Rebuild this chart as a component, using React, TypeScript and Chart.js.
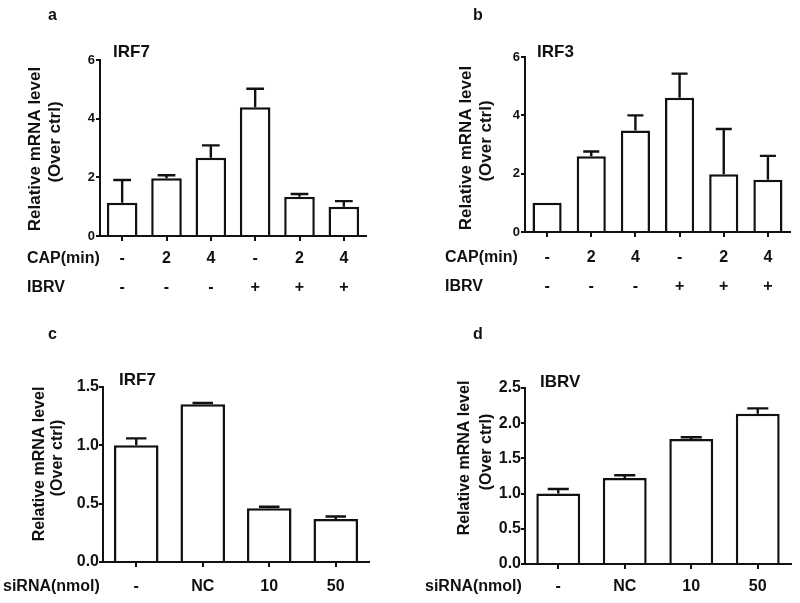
import React, { useEffect, useRef } from "react";
import { Chart, registerables } from "chart.js";

Chart.register(...registerables);

// ---------------- data ----------------
const capLabels = ["-", "2", "4", "-", "2", "4"];
const ibrvLabels = ["-", "-", "-", "+", "+", "+"];
const irf7AMeans = [1.13, 1.97, 2.67, 4.39, 1.34, 1.0];
const irf7AErr = [0.78, 0.1, 0.42, 0.63, 0.09, 0.19];
const irf3Means = [1.0, 2.6, 3.48, 4.6, 1.98, 1.79];
const irf3Err = [0, 0.16, 0.52, 0.83, 1.55, 0.82];
const sirnaLabels = ["-", "NC", "10", "50"];
const irf7CMeans = [1.0, 1.353, 0.461, 0.368];
const irf7CErr = [0.06, 0.01, 0.012, 0.022];
const ibrvMeans = [1.0, 1.22, 1.776, 2.135];
const ibrvErr = [0.065, 0.04, 0.024, 0.075];
const yTitleLines = ["Relative mRNA level", "(Over ctrl)"];
const capRowTitle = "CAP(min)";
const ibrvRowTitle = "IBRV";
const sirnaRowTitle = "siRNA(nmol)";

const FONT = "Arial, 'Liberation Sans', Helvetica, sans-serif";
const INK = "#111111";

type TextItem = { text: string; x: number; y: number };

type Panel = {
  key: string;
  left: number;
  top: number;
  width: number;
  height: number;
  area: { l: number; r: number; t: number; b: number };
  labels: (string | string[])[];
  means: number[];
  errs: number[];
  yMax: number;
  yStep: number;
  yDecimals: number;
  yFontSize: number;
  yTickPad: number;
  xFontSize: number;
  xLineHeight: number;
  xPad: number;
  barPct: number;
  capFrac: number;
  letter: TextItem;
  gene: TextItem;
  titleX: number[];
  titleY: number[];
  titleSize: number;
  rows: TextItem[];
};

const twoRow = capLabels.map((c, i) => [c, ibrvLabels[i]]);

const panels: Panel[] = [
  {
    key: "a",
    left: 0, top: 0, width: 400, height: 300,
    area: { l: 100, r: 366, t: 60, b: 236 },
    labels: twoRow, means: irf7AMeans, errs: irf7AErr,
    yMax: 6, yStep: 2, yDecimals: 0, yFontSize: 13, yTickPad: 1,
    xFontSize: 16, xLineHeight: 29, xPad: 3.5,
    barPct: 0.69, capFrac: 0.58,
    letter: { text: "a", x: 48, y: 16 },
    gene: { text: "IRF7", x: 113, y: 52 },
    titleX: [35, 55], titleY: [149, 142], titleSize: 17,
    rows: [
      { text: capRowTitle, x: 27, y: 259 },
      { text: ibrvRowTitle, x: 27, y: 288 },
    ],
  },
  {
    key: "b",
    left: 400, top: 0, width: 400, height: 300,
    area: { l: 125, r: 390, t: 57, b: 232 },
    labels: twoRow, means: irf3Means, errs: irf3Err,
    yMax: 6, yStep: 2, yDecimals: 0, yFontSize: 13, yTickPad: 1,
    xFontSize: 16, xLineHeight: 28.5, xPad: 6.5,
    barPct: 0.66, capFrac: 0.55,
    letter: { text: "b", x: 473, y: 16 },
    gene: { text: "IRF3", x: 537, y: 52 },
    titleX: [466, 486], titleY: [148, 141], titleSize: 17,
    rows: [
      { text: capRowTitle, x: 445, y: 258 },
      { text: ibrvRowTitle, x: 445, y: 287 },
    ],
  },
  {
    key: "c",
    left: 0, top: 300, width: 400, height: 303,
    area: { l: 103, r: 369, t: 87, b: 262 },
    labels: sirnaLabels, means: irf7CMeans, errs: irf7CErr,
    yMax: 1.5, yStep: 0.5, yDecimals: 1, yFontSize: 16, yTickPad: 0,
    xFontSize: 16, xLineHeight: 19, xPad: 10.5,
    barPct: 0.67, capFrac: 0.46,
    letter: { text: "c", x: 48, y: 335 },
    gene: { text: "IRF7", x: 119, y: 380 },
    titleX: [40, 58], titleY: [464, 458], titleSize: 16,
    rows: [{ text: sirnaRowTitle, x: 3, y: 587 }],
  },
  {
    key: "d",
    left: 400, top: 300, width: 400, height: 303,
    area: { l: 125, r: 391, t: 88, b: 264 },
    labels: sirnaLabels, means: ibrvMeans, errs: ibrvErr,
    yMax: 2.5, yStep: 0.5, yDecimals: 1, yFontSize: 16, yTickPad: 0,
    xFontSize: 16, xLineHeight: 19, xPad: 8.5,
    barPct: 0.66, capFrac: 0.48,
    letter: { text: "d", x: 473, y: 335 },
    gene: { text: "IBRV", x: 540, y: 382 },
    titleX: [465, 487], titleY: [458, 452], titleSize: 16,
    rows: [{ text: sirnaRowTitle, x: 425, y: 587 }],
  },
];

function makeChart(canvas: HTMLCanvasElement, p: Panel) {
  const ox = p.left;
  const oy = p.top;

  const decorPlugin = {
    id: "decor_" + p.key,
    afterDatasetsDraw(chart: any) {
      const ctx = chart.ctx as CanvasRenderingContext2D;
      const yScale = chart.scales.y;
      const meta = chart.getDatasetMeta(0);
      ctx.save();
      ctx.strokeStyle = INK;
      ctx.lineWidth = 2.4;
      ctx.lineCap = "butt";
      p.means.forEach((m, i) => {
        const e = p.errs[i];
        if (!e) return;
        const bar = meta.data[i];
        const x = bar.x;
        const w = bar.width;
        const yb = yScale.getPixelForValue(m);
        const yt = yScale.getPixelForValue(m + e);
        const hw = (w * p.capFrac) / 2;
        ctx.beginPath();
        ctx.moveTo(x, yb);
        ctx.lineTo(x, yt);
        ctx.moveTo(x - hw, yt);
        ctx.lineTo(x + hw, yt);
        ctx.stroke();
      });
      ctx.restore();
    },
    afterDraw(chart: any) {
      const ctx = chart.ctx as CanvasRenderingContext2D;
      ctx.save();
      ctx.fillStyle = INK;
      ctx.textBaseline = "middle";
      ctx.textAlign = "left";
      ctx.font = `bold 16px ${FONT}`;
      ctx.fillText(p.letter.text, p.letter.x - ox, p.letter.y - oy);
      ctx.font = `bold 17px ${FONT}`;
      ctx.fillText(p.gene.text, p.gene.x - ox, p.gene.y - oy);
      ctx.font = `bold 16px ${FONT}`;
      p.rows.forEach((r) => ctx.fillText(r.text, r.x - ox, r.y - oy));
      ctx.font = `bold ${p.titleSize}px ${FONT}`;
      ctx.textAlign = "center";
      yTitleLines.forEach((line, i) => {
        ctx.save();
        ctx.translate(p.titleX[i] - ox, p.titleY[i] - oy);
        ctx.rotate(-Math.PI / 2);
        ctx.fillText(line, 0, 0);
        ctx.restore();
      });
      ctx.restore();
    },
  };

  return new Chart(canvas, {
    type: "bar",
    data: {
      labels: p.labels as any,
      datasets: [
        {
          data: p.means,
          backgroundColor: "#ffffff",
          borderColor: INK,
          borderWidth: 2.5,
          barPercentage: p.barPct,
          categoryPercentage: 1,
        },
      ],
    },
    options: {
      animation: false,
      responsive: false,
      devicePixelRatio: 1,
      layout: {
        padding: {
          left: 0,
          top: p.area.t,
          right: p.width - p.area.r,
          bottom: 0,
        },
      },
      plugins: {
        legend: { display: false },
        tooltip: { enabled: false },
        title: { display: false },
      },
      scales: {
        x: {
          type: "category",
          offset: true,
          grid: {
            display: true,
            drawOnChartArea: false,
            drawTicks: true,
            offset: false,
            tickLength: 5,
            color: INK,
            lineWidth: 2,
          },
          border: { display: true, color: INK, width: 2 },
          ticks: {
            color: INK,
            padding: p.xPad,
            maxRotation: 0,
            autoSkip: false,
            font: { family: FONT, size: p.xFontSize, weight: "bold", lineHeight: p.xLineHeight / p.xFontSize },
          },
          afterFit: (s: any) => {
            s.height = p.height - p.area.b;
          },
        },
        y: {
          min: 0,
          max: p.yMax,
          grid: {
            display: true,
            drawOnChartArea: false,
            drawTicks: true,
            tickLength: 4,
            color: INK,
            lineWidth: 2,
          },
          border: { display: true, color: INK, width: 2 },
          ticks: {
            stepSize: p.yStep,
            color: INK,
            padding: p.yTickPad,
            font: { family: FONT, size: p.yFontSize, weight: "bold" },
            callback: (v: any) => Number(v).toFixed(p.yDecimals),
          },
          afterFit: (s: any) => {
            s.width = p.area.l;
          },
        },
      },
    } as any,
    plugins: [decorPlugin],
  });
}

function PanelCanvas({ p }: { p: Panel }) {
  const ref = useRef<HTMLCanvasElement | null>(null);
  useEffect(() => {
    if (!ref.current) return;
    const chart = makeChart(ref.current, p);
    return () => chart.destroy();
  }, [p]);
  return (
    <canvas
      ref={ref}
      width={p.width}
      height={p.height}
      style={{ position: "absolute", left: p.left, top: p.top, width: p.width, height: p.height }}
    />
  );
}

export default function App() {
  return (
    <div
      style={{
        position: "absolute",
        left: 0,
        top: 0,
        width: 800,
        height: 603,
        background: "#ffffff",
        overflow: "hidden",
      }}
    >
      {panels.map((p) => (
        <PanelCanvas key={p.key} p={p} />
      ))}
    </div>
  );
}
